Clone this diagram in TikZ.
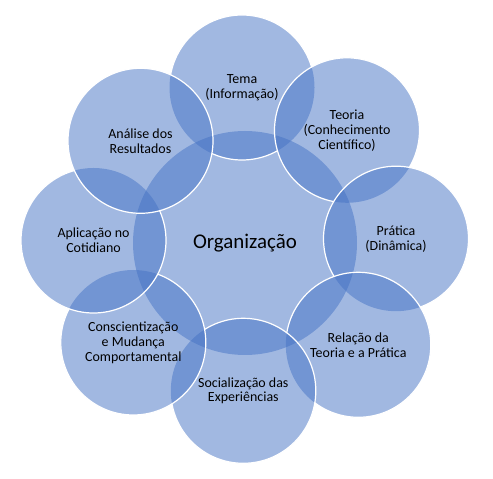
\documentclass[tikz,border=0pt]{standalone}
\usepackage{fontspec}
\setmainfont{Carlito}
\usepackage{xcolor}
\usetikzlibrary{backgrounds}
\definecolor{azul}{HTML}{4472C4}

\begin{document}
\begin{tikzpicture}[x=1bp,y=1bp,
  etapa/.style={circle, minimum size=145bp, inner sep=0pt, align=center, font=\fontsize{14}{15}\selectfont},
  centro/.style={circle, minimum size=224bp, inner sep=0pt, align=center, font=\fontsize{21}{24}\selectfont},
  preench/.style={fill=azul, fill opacity=0.5},
  contorno/.style={draw=white, line width=1.2bp}]
\useasboundingbox (0,0) rectangle (493,479);

\node[centro] (org) at (245,236) {Organização};
\node[etapa] (tema) at (242,391.5) {Tema\\(Informação)};
\node[etapa] (teoria) at (347,348.7) {Teoria\\(Conhecimento\\Científico)};
\node[etapa] (pratica) at (396,240.3) {Prática\\(Dinâmica)};
\node[etapa] (relacao) at (358.3,134.2) {Relação da\\Teoria e a Prática};
\node[etapa] (social) at (243.3,88.2) {Socialização das\\Experiências};
\node[etapa] (consc) at (133.3,136.5) {Conscientização\\e Mudança\\Comportamental};
\node[etapa] (aplic) at (93.5,238.5) {Aplicação no\\Cotidiano};
\node[etapa] (analise) at (140.5,338.2) {Análise dos\\Resultados};

\begin{pgfonlayer}{background}
% circulos
\fill[preench] (org.center) circle[radius=112];
\foreach \n in {tema,teoria,pratica,relacao,social,consc,aplic,analise}
  \fill[preench] (\n.center) circle[radius=72.5];
% bordas brancas
\begin{scope}[even odd rule]
\clip (0,0) rectangle (493,479)
  (teoria.center) circle (72.5) (analise.center) circle (72.5);
\draw[contorno] (tema.center) circle (72.5);
\end{scope}
\foreach \a/\b in {teoria/pratica,pratica/relacao,relacao/social,social/consc,consc/aplic,aplic/analise}{
  \begin{scope}[even odd rule]
  \clip (0,0) rectangle (493,479) (\b.center) circle (72.5);
  \draw[contorno] (\a.center) circle (72.5);
  \end{scope}
}
\draw[contorno] (analise.center) circle (72.5);
\end{pgfonlayer}
\end{tikzpicture}
\end{document}
